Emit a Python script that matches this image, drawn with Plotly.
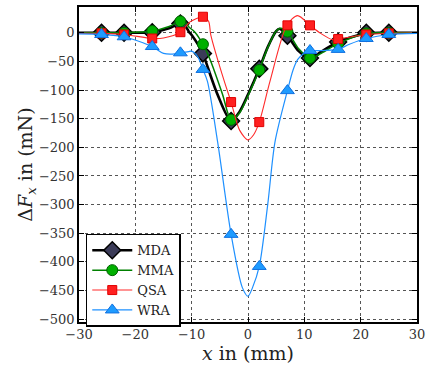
import plotly.graph_objects as go

# ---- marker data (x in mm, dFx in mN) ----
x_mark = [-26, -22, -17, -12, -8, -3, 2, 7, 11, 16, 21, 25]
mda_mark = [0, 0, 1, 16, -36, -154, -63, -5, -44, -16, 0, 0]
mma_mark = [0, 0, 3, 20, -20, -152, -65, 2, -44, -19, -1, 0]
qsa_mark = [-1, -3, -10, 1, 28, -121, -156, 13, 13, -11, -3, -1]
wra_mark = [-3, -7, -24, -35, -64, -352, -408, -101, -31, -29, -10, -3]

# ---- curve data ----
mda_lx = [-30, -26, -22, -17, -14, -12, -11, -10.5, -10, -8, -7.5, -5.4, -3, -1.5, 0, 1, 2, 3.5, 5, 5.6, 7, 9, 11, 13, 16, 21, 25, 30]
mda_ly = [0, 0, 0, 1, 8, 16, 10, 2, -4, -36, -50, -108, -154, -138, -108, -86, -63, -25, 3, 7, -5, -32, -45, -33, -16, -1, 0, 0]
mma_lx = [-30, -26, -22, -17, -14, -12, -11, -10.5, -9.5, -8, -6.6, -4.5, -3, -1.5, 0, 1, 2, 3.5, 5, 5.8, 7, 9, 11, 13, 16, 21, 25, 30]
mma_ly = [0, 0, 0, 3, 11, 20, 17, 10, 2, -20, -50, -108, -152, -140, -110, -88, -65, -26, 3, 8, 2, -28, -44, -36, -19, -1, 0, 0]
qsa_lx = [-30, -26, -22, -17, -15, -12, -10.3, -8, -7, -6.6, -4.2, -3, -1.5, 0, 1, 2, 3.9, 6.9, 8.8, 11, 12.9, 15, 16, 21, 25, 30]
qsa_ly = [-1, -1, -3, -10, -9, 1, 19, 28, 20, -4, -85, -121, -170, -187, -178, -156, -85, 13, 30, 13, -1, -12, -11, -3, -1, 0]
wra_lx = [-30, -26, -22, -17, -15, -13, -12, -10.6, -10, -8.9, -8, -7.2, -5.4, -3, -1, 0, 0.8, 2, 3.5, 4.8, 7, 8, 8.8, 9.8, 11, 13, 16, 18, 21, 25, 30]
wra_ly = [-2, -3, -7, -24, -36, -37, -35, -33, -32, -42, -64, -85, -190, -352, -445, -460, -445, -408, -300, -190, -101, -65, -47, -37, -32, -31, -29, -20, -10, -3, -1]

x_ticks = [-30, -20, -10, 0, 10, 20, 30]
y_ticks = [0, -50, -100, -150, -200, -250, -300, -350, -400, -450, -500]

FONT = "DejaVu Serif"

series = [
    ("MDA", mda_lx, mda_ly, mda_mark, "black", 2.6, "diamond", 13, "#3b3b58", "black", 1.5),
    ("MMA", mma_lx, mma_ly, mma_mark, "#008000", 1.5, "circle", 11, "#00b000", "#006000", 1),
    ("QSA", qsa_lx, qsa_ly, qsa_mark, "#ff2a2a", 1.1, "square", 9, "#ff2020", "#e00000", 1),
    ("WRA", wra_lx, wra_ly, wra_mark, "#1e90ff", 1.2, "triangle-up", 12, "#1e9bff", "#1070e0", 1),
]

fig = go.Figure()
for name, lx, ly, my, lc, lw, sym, ms, mc, mlc, mlw in series:
    fig.add_trace(go.Scatter(x=lx, y=ly, mode="lines", line=dict(color=lc, width=lw, shape="spline", smoothing=0.8),
                             showlegend=False, hoverinfo="skip"))
    fig.add_trace(go.Scatter(x=x_mark, y=my, mode="markers",
                             marker=dict(symbol=sym, size=ms, color=mc, line=dict(color=mlc, width=mlw)),
                             showlegend=False))
    fig.add_trace(go.Scatter(x=[None], y=[None], mode="lines+markers", name=name,
                             line=dict(color=lc, width=lw),
                             marker=dict(symbol=sym, size=ms, color=mc, line=dict(color=mlc, width=mlw))))

axis_common = dict(
    showline=True, linecolor="black", linewidth=1.5, mirror="ticks",
    ticks="inside", ticklen=5, tickcolor="black", tickwidth=1,
    showgrid=True, gridcolor="#555555", griddash="dot", gridwidth=1,
    zeroline=False, ticklabeloverflow="allow",
    tickfont=dict(family=FONT, size=13, color="#333333"),
)

fig.update_xaxes(range=[-30, 30], tickvals=x_ticks, ticktext=[("−" + str(-v)) if v < 0 else str(v) for v in x_ticks],
                 title=dict(text="<i>x</i> in (mm)", font=dict(family=FONT, size=19, color="#222222"), standoff=4),
                 **axis_common)
fig.update_yaxes(range=[-505, 45], tickvals=y_ticks, ticktext=[("−" + str(-v)) if v < 0 else str(v) for v in y_ticks],
                 title=dict(text="Δ<i>F</i><sub><i>x</i></sub> in (mN)", font=dict(family=FONT, size=19, color="#222222"), standoff=0),
                 **axis_common)

fig.update_layout(
    width=430, height=374,
    margin=dict(l=79, r=8, t=5, b=52),
    plot_bgcolor="white", paper_bgcolor="white",
    font=dict(family=FONT),
    legend=dict(x=0.02, y=0.28, xanchor="left", yanchor="top",
                bgcolor="white", bordercolor="black", borderwidth=1.5,
                font=dict(family=FONT, size=13, color="#222222"),
                tracegroupgap=0, itemwidth=40),
    showlegend=True,
)

fig.write_html("out.html")
